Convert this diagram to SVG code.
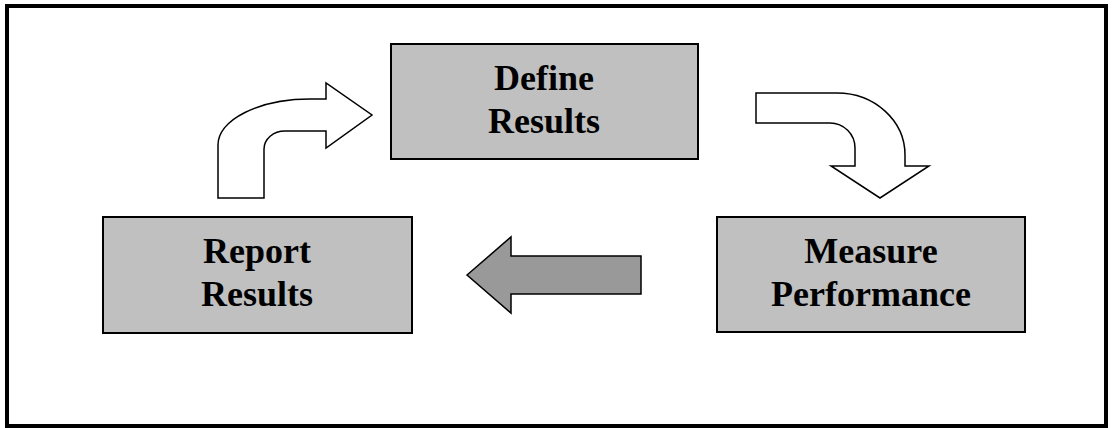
<svg xmlns="http://www.w3.org/2000/svg" width="1112" height="428" viewBox="0 0 1112 428">
<style>
.frame{fill:#ffffff;stroke:#000000;stroke-width:4}
.box{fill:#c0c0c0;stroke:#000000;stroke-width:2}
.lbl{font-family:"Liberation Serif","Times New Roman",serif;font-weight:bold;font-size:36px;fill:#000000;text-anchor:middle}
.arr{fill:#ffffff;stroke:#000000;stroke-width:1.5;stroke-linejoin:miter}
.arrg{fill:#999999;stroke:#000000;stroke-width:1.5;stroke-linejoin:miter}
</style>
<rect class="frame" x="7" y="6" width="1099" height="420"/>
<g id="connectors">
<path id="arrow-report-define" class="arr" d="M218,198 L218,145 A92,46 0 0 1 310,99 L326,99 L326,83 L372,115 L326,148 L326,131 L285,131 A21,18 0 0 0 264,149 L264,198 Z"/>
<path id="arrow-define-measure" class="arr" d="M756,93 L837,93 A68,62 0 0 1 905,155 L905,166 L929,166 L880,198 L831,166 L855,166 L855,148 A25,25 0 0 0 830,123 L756,123 Z"/>
<path id="arrow-measure-report" class="arrg" d="M467,275 L511,237 L511,256 L641,256 L641,294 L511,294 L511,313 Z"/>
</g>
<g id="define">
<rect class="box" x="391" y="44" width="307" height="115"/>
<text class="lbl" x="544" y="90">Define</text>
<text class="lbl" x="544" y="133">Results</text>
</g>
<g id="report">
<rect class="box" x="103" y="217" width="309" height="116"/>
<text class="lbl" x="257" y="263">Report</text>
<text class="lbl" x="257" y="306">Results</text>
</g>
<g id="measure">
<rect class="box" x="717" y="217" width="308" height="115"/>
<text class="lbl" x="871" y="263">Measure</text>
<text class="lbl" x="871" y="306">Performance</text>
</g>
</svg>
